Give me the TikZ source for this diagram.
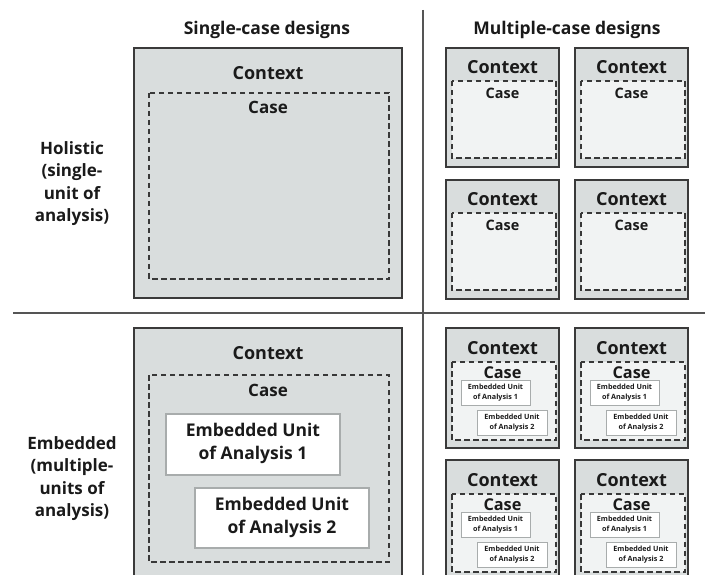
\documentclass[tikz,border=0pt]{standalone}
\usepackage{fontspec}
\setmainfont{Open Sans}
\definecolor{ctxgray}{HTML}{D9DDDD}
\definecolor{casefill}{HTML}{F1F3F3}
\definecolor{boxborder}{HTML}{3A3A3A}
\definecolor{dashcol}{HTML}{383838}
\definecolor{eubord}{HTML}{A8ACAC}
\definecolor{txt}{HTML}{1A1A1A}
\definecolor{divcol}{HTML}{555555}
\begin{document}
\begin{tikzpicture}[x=1pt,y=-1pt,
  ctxbox/.style={draw=boxborder,line width=2.4pt,fill=ctxgray},
  casebox/.style={draw=dashcol,line width=1.8pt,dash pattern=on 5.5pt off 3.5pt},
  smallcase/.style={draw=dashcol,line width=1.7pt,dash pattern=on 5.5pt off 3.5pt,fill=casefill},
  eubox/.style={draw=eubord,line width=1.3pt,fill=white},
  smalleu/.style={draw=eubord,line width=0.9pt,fill=white},
  divider/.style={draw=divcol,line width=2pt},
  head/.style={font=\bfseries\fontsize{17.5}{20}\selectfont,text=txt},
  rowlbl/.style={font=\bfseries\fontsize{17}{22.3}\selectfont,align=center,text=txt},
  ctxtxt/.style={font=\bfseries\fontsize{18}{18}\selectfont,text=txt,inner sep=0pt},
  casetxt/.style={font=\bfseries\fontsize{17}{18}\selectfont,text=txt,inner sep=0pt},
  scasetxt/.style={font=\bfseries\fontsize{14.4}{16}\selectfont,text=txt,inner sep=0pt},
  ecasetxt/.style={font=\bfseries\fontsize{16.3}{16}\selectfont,text=txt,inner sep=0pt},
  eutxt/.style={font=\bfseries\fontsize{17.5}{23}\selectfont,align=center,text=txt,inner sep=0pt},
  seutxt/.style={font=\bfseries\fontsize{7.2}{10}\selectfont,align=center,text=txt,inner sep=0pt},
  holipic/.pic={
    \draw[ctxbox] (0,0) rectangle (113,119);
    \draw[smallcase] (6,33) rectangle (110,110);
    \node[ctxtxt] (ctx) at (56.5,19) {Context};
    \node[scasetxt] (case) at (56.5,45) {Case};
  },
  embpic/.pic={
    \draw[ctxbox] (0,0) rectangle (113,120);
    \draw[smallcase] (6,34) rectangle (110,112);
    \node[ctxtxt] (ctx) at (56.5,20) {Context};
    \node[ecasetxt] (case) at (56.5,45) {Case};
    \draw[smalleu] (15,52) rectangle (84,77);
    \node[seutxt] (eu1) at (49.5,64.5) {Embedded Unit\\of Analysis 1};
    \draw[smalleu] (31,82) rectangle (101,107);
    \node[seutxt] (eu2) at (66,94.5) {Embedded Unit\\of Analysis 2};
  }
]
\useasboundingbox (0,0) rectangle (705,575);
\clip (0,0) rectangle (705,575);
% dividers
\draw[divider] (423,10) -- (423,575);
\draw[divider] (13,313) -- (705,313);
% headings
\node[head] (h1) at (267,30) {Single-case designs};
\node[head] (h2) at (567,30) {Multiple-case designs};
\node[rowlbl] (r1) at (72,183.5) {Holistic\\(single-\\unit of\\analysis)};
\node[rowlbl] (r2) at (72,478.5) {Embedded\\(multiple-\\units of\\analysis)};
% single holistic
\draw[ctxbox] (134,48) rectangle (402,298);
\draw[casebox] (149,93) rectangle (389,279);
\node[ctxtxt] (c1) at (268,73) {Context};
\node[casetxt] (k1) at (268,107) {Case};
% single embedded
\draw[ctxbox] (134,328) rectangle (402,620);
\draw[casebox] (149,375) rectangle (389,562);
\node[ctxtxt] (c2) at (268,353) {Context};
\node[casetxt] (k2) at (268,390) {Case};
\draw[eubox] (166,414) rectangle (340,475);
\node[eutxt] (e1) at (253,443.5) {Embedded Unit\\of Analysis 1};
\draw[eubox] (195,488) rectangle (369,548);
\node[eutxt] (e2) at (282,517) {Embedded Unit\\of Analysis 2};
% multiple holistic
\pic (m1) at (446,48) {holipic};
\pic (m2) at (575,48) {holipic};
\pic (m3) at (446,180) {holipic};
\pic (m4) at (575,180) {holipic};
% multiple embedded
\pic (n1) at (446,328) {embpic};
\pic (n2) at (575,328) {embpic};
\pic (n3) at (446,460) {embpic};
\pic (n4) at (575,460) {embpic};
\end{tikzpicture}
\end{document}
